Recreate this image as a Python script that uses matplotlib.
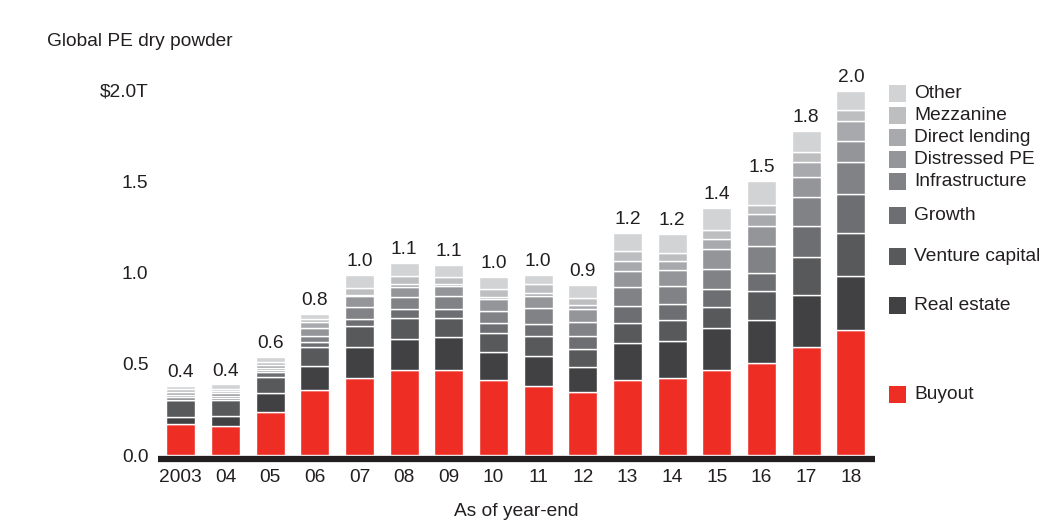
import numpy as np
import matplotlib
matplotlib.use("Agg")
import matplotlib.pyplot as plt
from matplotlib.patches import Rectangle
import matplotlib.transforms as mtransforms

plt.rcParams['font.family'] = ['Liberation Sans', 'DejaVu Sans']

years = ["2003", "04", "05", "06", "07", "08", "09", "10", "11", "12",
         "13", "14", "15", "16", "17", "18"]
total_labels = ["0.4", "0.4", "0.6", "0.8", "1.0", "1.1", "1.1", "1.0", "1.0",
                "0.9", "1.2", "1.2", "1.4", "1.5", "1.8", "2.0"]

# $T, bottom to top of each bar
buyout = [0.168, 0.161, 0.237, 0.358, 0.424, 0.464, 0.464, 0.411, 0.378, 0.344,
          0.409, 0.424, 0.464, 0.502, 0.593, 0.685]
real_estate = [0.038, 0.051, 0.100, 0.132, 0.167, 0.172, 0.181, 0.153, 0.163, 0.137,
               0.203, 0.199, 0.232, 0.239, 0.281, 0.296]
venture = [0.093, 0.092, 0.088, 0.100, 0.115, 0.113, 0.104, 0.102, 0.111, 0.100,
           0.110, 0.115, 0.117, 0.155, 0.210, 0.234]
growth = [0.005, 0.007, 0.027, 0.031, 0.037, 0.051, 0.051, 0.055, 0.066, 0.071,
          0.092, 0.088, 0.099, 0.102, 0.170, 0.215]
infrastructure = [0.013, 0.011, 0.015, 0.033, 0.066, 0.064, 0.070, 0.070, 0.086, 0.075,
                  0.106, 0.102, 0.106, 0.148, 0.157, 0.175]
distressed = [0.013, 0.015, 0.011, 0.041, 0.062, 0.056, 0.055, 0.062, 0.067, 0.073,
              0.089, 0.084, 0.110, 0.110, 0.110, 0.113]
direct_lending = [0.013, 0.013, 0.016, 0.031, 0.003, 0.015, 0.011, 0.015, 0.015, 0.020,
                  0.053, 0.051, 0.055, 0.062, 0.082, 0.110]
mezzanine = [0.016, 0.013, 0.015, 0.020, 0.042, 0.044, 0.040, 0.040, 0.051, 0.040,
             0.055, 0.042, 0.051, 0.051, 0.056, 0.062]
other = [0.018, 0.024, 0.026, 0.029, 0.069, 0.073, 0.066, 0.066, 0.051, 0.073,
         0.102, 0.106, 0.121, 0.132, 0.115, 0.104]

series = [
    ("Buyout", buyout, "#ee2d24"),
    ("Real estate", real_estate, "#414042"),
    ("Venture capital", venture, "#58595b"),
    ("Growth", growth, "#6d6e71"),
    ("Infrastructure", infrastructure, "#808285"),
    ("Distressed PE", distressed, "#939598"),
    ("Direct lending", direct_lending, "#a7a9ac"),
    ("Mezzanine", mezzanine, "#bcbec0"),
    ("Other", other, "#d1d3d4"),
]

TXT = "#231f20"
FS = 13.8
W, H = 1053, 527
fig = plt.figure(figsize=(W / 100, H / 100), dpi=100)
ax = fig.add_axes([158 / W, 72 / H, 717 / W, 383.3 / H])

x = np.arange(len(years))
bottom = np.zeros(len(years))
for name, vals, col in series:
    vals = np.array(vals)
    ax.bar(x, vals, width=0.65, bottom=bottom, color=col,
           edgecolor="white", linewidth=1.0, zorder=2)
    bottom += vals

for xi, top, lab in zip(x, bottom, total_labels):
    ax.annotate(lab, (xi, top), xytext=(0, 3.5), textcoords="offset points",
                ha="center", va="bottom", fontsize=FS, color=TXT)

ax.set_xlim(-0.51, len(years) - 1 + 0.54)
ax.set_ylim(0, 2.1)
ax.set_yticks([0, 0.5, 1.0, 1.5, 2.0])
ax.set_yticklabels(["0.0", "0.5", "1.0", "1.5", "$2.0T"])
ax.set_xticks(x)
ax.set_xticklabels(years)
ax.tick_params(axis="both", length=0, labelsize=FS, colors=TXT)
ax.tick_params(axis="y", pad=7)
ax.tick_params(axis="x", pad=7)
for s in ["left", "right", "top"]:
    ax.spines[s].set_visible(False)
ax.spines["bottom"].set_position(("outward", 3))
ax.spines["bottom"].set_linewidth(4.5)
ax.spines["bottom"].set_color(TXT)
ax.spines["bottom"].set_capstyle("butt")

# legend aligned with the 2018 bar segments, spread to avoid overlap
last = len(years) - 1
mids = []
acc = 0.0
for name, vals, col in series:
    mids.append(acc + vals[last] / 2)
    acc += vals[last]
mids = np.array(mids)
gap = 0.121
for _ in range(200):
    for i in range(len(mids) - 1):
        d = mids[i + 1] - mids[i]
        if d < gap:
            push = (gap - d) / 2
            mids[i] -= push
            mids[i + 1] += push
mids = mids - 0.012

trans = mtransforms.blended_transform_factory(ax.transAxes, ax.transData)
sq_w = 17 / 717
sq_h = 17 / 182.5
for (name, vals, col), ym in zip(series, mids):
    ax.add_patch(Rectangle((731 / 717, ym - sq_h / 2), sq_w, sq_h, transform=trans,
                           facecolor=col, edgecolor="none", clip_on=False))
    ax.text(756 / 717, ym, name, transform=trans, ha="left", va="center",
            fontsize=FS, color=TXT)

fig.text(47 / W, 1 - 42 / H, "Global PE dry powder", ha="left", va="center",
         fontsize=FS, color=TXT)
fig.text(516 / W, 1 - 512 / H, "As of year-end", ha="center", va="center",
         fontsize=FS, color=TXT)

fig.savefig("out.png", dpi=100)
